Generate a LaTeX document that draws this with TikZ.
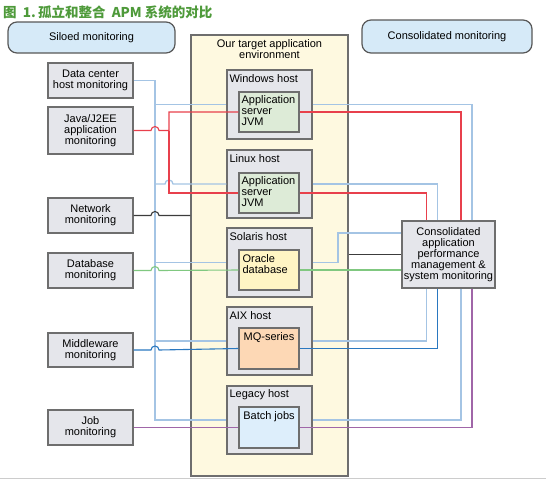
\documentclass[tikz,border=0pt]{standalone}
\usepackage{fontspec}
\setmainfont{Liberation Sans}
\newfontfamily\cjk{Noto Sans CJK SC}
\usetikzlibrary{calc}
\definecolor{bd}{HTML}{6E6E6E}
\definecolor{bx}{HTML}{E5E6EB}
\definecolor{appg}{HTML}{DDEBD7}
\definecolor{orac}{HTML}{FFF5C4}
\definecolor{mqc}{HTML}{FDD8B5}
\definecolor{batc}{HTML}{DDEEFB}
\definecolor{envc}{HTML}{FEF9E0}
\definecolor{silc}{HTML}{D6EAF8}
\definecolor{clb}{HTML}{A4C4E4}
\definecolor{cred}{HTML}{E8404C}
\definecolor{cdk}{HTML}{3C3C3C}
\definecolor{cgr}{HTML}{80C880}
\definecolor{cbl}{HTML}{2A78C0}
\definecolor{cpu}{HTML}{A066A8}
\definecolor{ttl}{HTML}{4E9A3A}
\begin{document}
\begin{tikzpicture}[x=1pt,y=-1pt,
  txt/.style={font=\fontsize{11}{11}\selectfont, inner sep=0pt},
  box/.style={draw=bd, line width=1.3pt, inner sep=0pt},
  mon/.style={box, fill=bx, minimum width=85, minimum height=35, align=center, txt},
  hostbox/.style={box, fill=bx, minimum width=85, minimum height=68},
  appbox/.style={box, minimum width=60, minimum height=40},
  lab/.style={txt, anchor=west},
  lb/.style={draw=clb, line width=1.3pt},
  rd/.style={draw=cred, line width=1.1pt},
  dk/.style={draw=cdk, line width=1.1pt},
  gr/.style={draw=cgr, line width=1.1pt},
  bl/.style={draw=cbl, line width=1.1pt},
  pu/.style={draw=cpu, line width=1.1pt},
  pill/.style={draw=bd!80!black, line width=1.2pt, rounded corners=9pt, fill=silc, txt}
]
\useasboundingbox (0,0) rectangle (546,480);
\draw[draw=black!20, line width=1pt] (0,478.5) -- (546,478.5);

% title
\node[anchor=west, inner sep=0pt, text=ttl, font=\cjk\bfseries\fontsize{13.5}{14}\selectfont] (title) at (3,12) {图\ \ 1.\,孤立和整合\ \ APM 系统的对比};

% top pills
\node[pill, minimum width=167, minimum height=31] (silo) at (91.5,37.5) {Siloed monitoring};
\node[pill, minimum width=170, minimum height=33] (cons) at (447,36.5) {Consolidated monitoring};

% environment
\node[box, fill=envc, minimum width=157, minimum height=441] (env) at (269.5,255.5) {};
\node[txt, anchor=north, align=center] (envl) at ($(env.north)+(0,5)$) {Our target application\\environment};

% hosts
\node[hostbox, minimum height=69] (win) at (269.5,104.5) {};
\node[hostbox] (lin) at (269.5,184) {};
\node[hostbox, minimum height=69] (sol) at (269.5,262.5) {};
\node[hostbox] (aix) at (269.5,341) {};
\node[hostbox] (leg) at (269.5,420) {};
\node[lab] (winl) at ($(win.north west)+(3,9)$) {Windows host};
\node[lab] (linl) at ($(lin.north west)+(3,9)$) {Linux host};
\node[lab] (soll) at ($(sol.north west)+(3,9)$) {Solaris host};
\node[lab] (aixl) at ($(aix.north west)+(3,9)$) {AIX host};
\node[lab] (legl) at ($(leg.north west)+(3,9)$) {Legacy host};

% inner boxes
\node[appbox, fill=appg] (app1) at (269,112) {};
\node[appbox, fill=appg] (app2) at (269,193) {};
\node[appbox, fill=orac] (ora) at (269,270) {};
\node[appbox, fill=mqc, minimum height=41] (mq) at (269,348.5) {};
\node[appbox, fill=batc, minimum height=41] (bat) at (269,427.5) {};
\node[txt, anchor=north west, align=left] (app1l) at ($(app1.north west)+(3,4)$) {Application\\server\\JVM};
\node[txt, anchor=north west, align=left] (app2l) at ($(app2.north west)+(3,4)$) {Application\\server\\JVM};
\node[txt, anchor=north west, align=left] (oral) at ($(ora.north west)+(4,4.5)$) {Oracle\\database};
\node[txt, anchor=north] (mql) at ($(mq.north)+(0,4.5)$) {MQ-series};
\node[txt, anchor=north] (batl) at ($(bat.north)+(0,4.5)$) {Batch jobs};

% left monitors
\node[mon] (dc) at (90.5,80.5) {Data center\\host monitoring};
\node[mon, minimum height=47] (java) at (90.5,130.5) {Java/J2EE\\application\\monitoring};
\node[mon] (net) at (90.5,215.5) {Network\\monitoring};
\node[mon] (db) at (90.5,270.5) {Database\\monitoring};
\node[mon, minimum height=34] (mw) at (90.5,350) {Middleware\\monitoring};
\node[mon] (job) at (90.5,427.5) {Job\\monitoring};

% consolidated APM
\node[box, fill=bx, minimum width=93, minimum height=67, align=center, txt] (apm) at (448.5,254.5)
  {Consolidated\\application\\performance\\management \&\\system monitoring};

% helper coordinates
\coordinate (tx) at (155,0);
\coordinate (rx) at (169,0);
\coordinate (sx) at (338,233);
\coordinate (c1) at (426.5,0);
\coordinate (c2) at (437.5,0);
\coordinate (c3) at (461,0);
\coordinate (c4) at (472,0);

% left side connectors
\draw[lb] (dc.east) -| (tx |- leg.west) -- (leg.west);
\draw[lb] (tx |- win.west) -- (win.west);
\draw[lb] (tx |- lin.west) -- ($(rx |- lin.west)+(-4,0)$) arc(180:360:4) -- (lin.west);
\draw[lb] (tx |- sol.west) -- (sol.west);
\draw[lb] (tx |- aix.west) -- (aix.west);

\draw[rd] (java.east) -- ($(tx |- java.east)+(-4,0)$) arc(180:360:4) -| (rx |- app1.west) -- (app1.west);
\draw[rd] (rx |- java.east) |- (app2.west);
\draw[dk] (net.east) -- ($(tx |- net.east)+(-4,0)$) arc(180:360:4) -- (env.west |- net.east);
\draw[gr] (db.east) -- ($(tx |- db.east)+(-4,0)$) arc(180:360:4) -- (ora.west);
\draw[bl] (mw.east) -- ($(tx |- mw.east)+(-4,0)$) arc(180:360:4) -- (mq.west);
\draw[pu] (job.east) -- (bat.west);

% right side connectors
\draw[lb] (win.east) -| (c4 |- apm.north);
\draw[rd] (app1.east) -| (c3 |- apm.north);
\draw[lb] (lin.east) -| (c2 |- apm.north);
\draw[rd] (app2.east) -| (c1 |- apm.north);
\draw[lb] (sol.east) -| (sx) -- (apm.west |- sx);
\draw[dk] (env.east |- apm.west) -- (apm.west);
\draw[gr] (ora.east) -- (apm.west |- ora.east);
\draw[lb] (aix.east) -| (c1 |- apm.south);
\draw[bl] (mq.east) -| (c2 |- apm.south);
\draw[lb] (leg.east) -| (c3 |- apm.south);
\draw[pu] (bat.east) -| (c4 |- apm.south);
\end{tikzpicture}
\end{document}
